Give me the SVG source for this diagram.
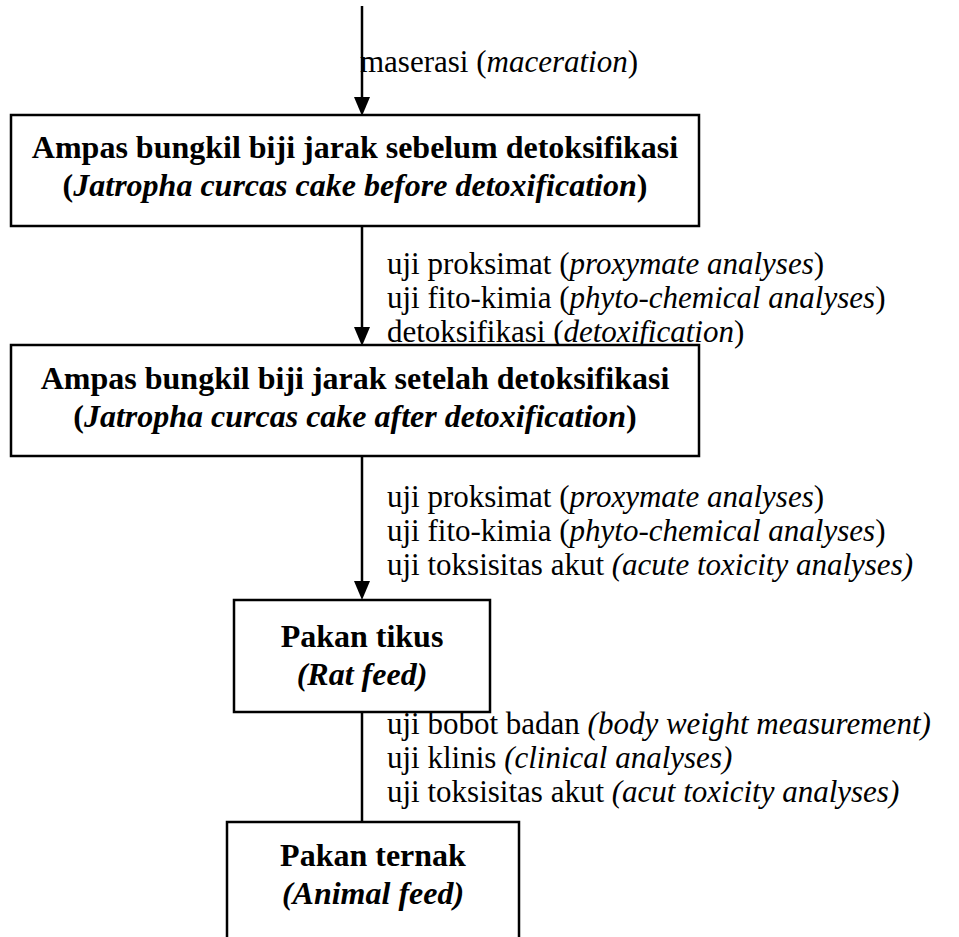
<svg xmlns="http://www.w3.org/2000/svg" width="959" height="937" viewBox="0 0 959 937">
<style>
.box{fill:#fff;stroke:#000;stroke-width:2.5}
.ln{stroke:#000;stroke-width:2.5;fill:none}
.b{font-family:'Liberation Serif',Tinos,'Times New Roman','DejaVu Serif',serif;font-weight:bold;font-size:32px;text-anchor:middle;fill:#000}
.l{font-family:'Liberation Serif',Tinos,'Times New Roman','DejaVu Serif',serif;font-size:31px;fill:#000}
.i{font-style:italic}
</style>
<rect width="959" height="937" fill="#fff"/>
<g id="connectors">
<line class="ln" x1="362" y1="6" x2="362" y2="97" />
<path d="M354,97 L370,97 L362,116 Z" fill="#000"/>
<line class="ln" x1="362" y1="226" x2="362" y2="327" />
<path d="M354,327 L370,327 L362,346 Z" fill="#000"/>
<line class="ln" x1="362" y1="456" x2="362" y2="581" />
<path d="M354,581 L370,581 L362,600 Z" fill="#000"/>
<line class="ln" x1="362" y1="712" x2="362" y2="822" />
<text class="l" x="360" y="72">maserasi (<tspan class="i">maceration</tspan>)</text>
<text class="l" x="387" y="274">uji proksimat (<tspan class="i">proxymate analyses</tspan>)</text>
<text class="l" x="387" y="308">uji fito-kimia (<tspan class="i">phyto-chemical analyses</tspan>)</text>
<text class="l" x="387" y="342">detoksifikasi (<tspan class="i">detoxification</tspan>)</text>
<text class="l" x="387" y="507">uji proksimat (<tspan class="i">proxymate analyses</tspan>)</text>
<text class="l" x="387" y="541">uji fito-kimia (<tspan class="i">phyto-chemical analyses</tspan>)</text>
<text class="l" x="387" y="575">uji toksisitas akut <tspan class="i">(acute toxicity analyses)</tspan></text>
<text class="l" x="387" y="734">uji bobot badan <tspan class="i">(body weight measurement)</tspan></text>
<text class="l" x="387" y="768">uji klinis <tspan class="i">(clinical analyses)</tspan></text>
<text class="l" x="387" y="802">uji toksisitas akut <tspan class="i">(acut toxicity analyses)</tspan></text>
</g>
<g id="node1">
<rect class="box" x="11" y="115" width="688" height="111"/>
<text class="b" x="355" y="158">Ampas bungkil biji jarak sebelum detoksifikasi</text>
<text class="b" x="355" y="196">(<tspan class="i">Jatropha curcas cake before detoxification</tspan>)</text>
</g>
<g id="node2">
<rect class="box" x="11" y="345" width="688" height="111"/>
<text class="b" x="355" y="389">Ampas bungkil biji jarak setelah detoksifikasi</text>
<text class="b" x="355" y="427">(<tspan class="i">Jatropha curcas cake after detoxification</tspan>)</text>
</g>
<g id="node3">
<rect class="box" x="234" y="600" width="256" height="112"/>
<text class="b" x="362" y="647">Pakan tikus</text>
<text class="b i" x="362" y="685">(Rat feed)</text>
</g>
<g id="node4">
<rect class="box" x="227" y="822" width="292" height="130"/>
<text class="b" x="373" y="866">Pakan ternak</text>
<text class="b i" x="373" y="904">(Animal feed)</text>
</g>
</svg>
